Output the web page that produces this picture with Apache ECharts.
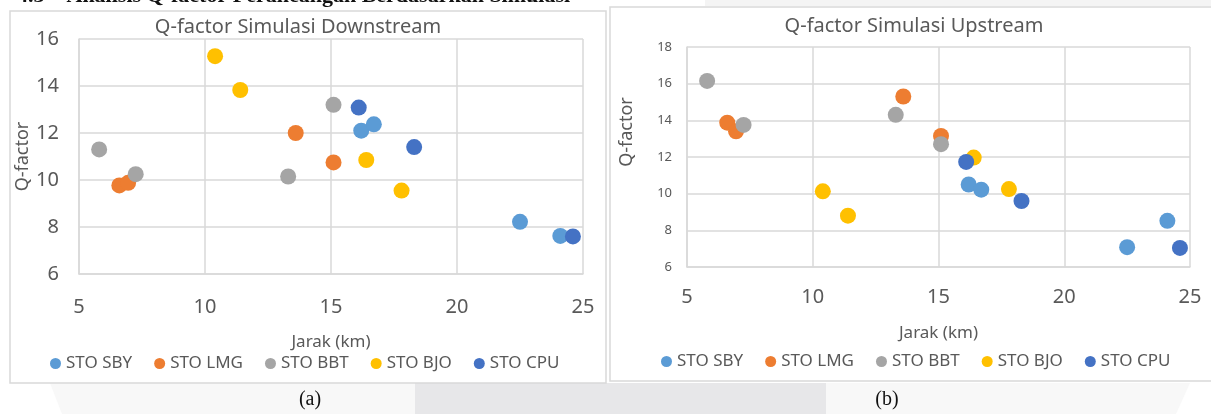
<!DOCTYPE html>
<html>
<head>
<meta charset="utf-8">
<script src="https://cdn.jsdelivr.net/npm/echarts@6/dist/echarts.min.js"></script>
<style>
  html, body { margin: 0; padding: 0; background: #fff; }
  #main { width: 1211px; height: 414px; }
</style>
</head>
<body>
<div id="main"></div>
<script>
// STO names and colours
const stoNames = ['STO SBY', 'STO LMG', 'STO BBT', 'STO BJO', 'STO CPU'];
const stoColors = ['#5B9BD5', '#ED7D31', '#A5A5A5', '#FFC000', '#4472C4'];

// jarak (km) per STO
const jarakSBY = [16.2, 16.7, 22.5, 24.1];
const jarakLMG = [6.6, 6.95, 13.6, 15.1];
const jarakBBT = [5.8, 7.25, 13.3, 15.1];
const jarakBJO = [10.4, 11.4, 16.4, 17.8];
const jarakCPU = [16.1, 18.3, 24.6];

// Q-factor downstream
const downSBY = [12.1, 12.37, 8.22, 7.62];
const downLMG = [9.77, 9.88, 12.0, 10.75];
const downBBT = [11.3, 10.25, 10.15, 13.2];
const downBJO = [15.27, 13.83, 10.85, 9.55];
const downCPU = [13.08, 11.4, 7.6];

// Q-factor upstream
const upSBY = [10.5, 10.22, 7.08, 8.52];
const upLMG = [13.87, 13.4, 15.3, 13.15];
const upBBT = [16.15, 13.75, 14.3, 12.7];
const upBJO = [10.13, 8.8, 11.97, 10.25];
const upCPU = [11.73, 9.6, 7.04];

const jarakAll = [jarakSBY, jarakLMG, jarakBBT, jarakBJO, jarakCPU];
const downAll = [downSBY, downLMG, downBBT, downBJO, downCPU];
const upAll = [upSBY, upLMG, upBBT, upBJO, upCPU];

const font = '"Noto Sans", sans-serif';
const textGrey = '#595959';
const gridGrey = '#D9D9D9';

function pairs(xs, ys) {
    return xs.map((x, i) => [x, ys[i]]);
}

function makeSeries(qAll, axisIndex) {
    return stoNames.map((name, i) => ({
        name: name,
        type: 'scatter',
        xAxisIndex: axisIndex,
        yAxisIndex: axisIndex,
        symbolSize: 16,
        itemStyle: { color: stoColors[i], opacity: 1 },
        data: pairs(jarakAll[i], qAll[i])
    }));
}

function xAxisOpt(gridIndex, labelMargin, nameGap) {
    return {
        type: 'value',
        gridIndex: gridIndex,
        min: 5, max: 25, interval: 5,
        name: 'Jarak (km)',
        nameLocation: 'middle',
        nameGap: nameGap,
        nameTextStyle: { color: textGrey, fontSize: 17, fontFamily: font },
        axisLine: { show: true, lineStyle: { color: gridGrey, width: 1.5 } },
        axisTick: { show: false },
        axisLabel: { color: textGrey, fontSize: 20, fontFamily: font, margin: labelMargin },
        splitLine: { show: true, lineStyle: { color: gridGrey, width: 1.5 } }
    };
}

function yAxisOpt(gridIndex, max, labelSize, labelMargin, nameGap, namePad) {
    return {
        type: 'value',
        gridIndex: gridIndex,
        min: 6, max: max, interval: 2,
        name: 'Q-factor',
        nameLocation: 'middle',
        nameGap: nameGap,
        nameTextStyle: { color: textGrey, fontSize: 18, fontFamily: font, padding: namePad },
        axisLine: { show: true, lineStyle: { color: gridGrey, width: 1.5 } },
        axisTick: { show: false },
        axisLabel: { color: textGrey, fontSize: labelSize, fontFamily: font, margin: labelMargin },
        splitLine: { show: true, lineStyle: { color: gridGrey, width: 1.5 } }
    };
}

function legendOpt(left, top) {
    return {
        data: stoNames,
        icon: 'circle',
        itemWidth: 11,
        itemHeight: 11,
        itemGap: 22,
        top: top,
        left: left,
        selectedMode: false,
        textStyle: { color: textGrey, fontSize: 17, fontFamily: font }
    };
}

const chart = echarts.init(document.getElementById('main'));

chart.setOption({
    backgroundColor: '#fff',
    animation: false,
    title: [
        {
            text: 'Q-factor Simulasi Downstream',
            left: 298, top: 17, textAlign: 'center',
            textStyle: { color: textGrey, fontSize: 20, fontWeight: 'normal', fontFamily: font },
            padding: 0
        },
        {
            text: 'Q-factor Simulasi Upstream',
            left: 914, top: 16, textAlign: 'center',
            textStyle: { color: textGrey, fontSize: 20, fontWeight: 'normal', fontFamily: font },
            padding: 0
        }
    ],
    grid: [
        { left: 79, top: 39, width: 504, height: 235 },
        { left: 687, top: 47, width: 503, height: 220 }
    ],
    xAxis: [xAxisOpt(0, 23, 60), xAxisOpt(1, 20, 58)],
    yAxis: [yAxisOpt(0, 16, 20, 20, 40, 0), yAxisOpt(1, 18, 13, 15, 51, [0, 0, 0, 50])],
    legend: [legendOpt(45, 350), legendOpt(656, 348)],
    graphic: [
        // page backdrop pieces around the two figures
        { type: 'rect', z: -10, shape: { x: 705, y: 0, width: 506, height: 6 }, style: { fill: '#f4f4f4' } },
        { type: 'rect', z: -10, shape: { x: 415, y: 383, width: 411, height: 31 }, style: { fill: '#e7e7e9' } },
        { type: 'polygon', z: -10, shape: { points: [[50, 383], [415, 383], [415, 414], [62, 414]] }, style: { fill: '#f8f8f8' } },
        { type: 'polygon', z: -10, shape: { points: [[826, 383], [1190, 383], [1176, 414], [826, 414]] }, style: { fill: '#f8f8f8' } },
        // cut-off section heading (only its lower edge shows)
        {
            type: 'text', z: -8, x: 17, y: 7,
            style: {
                text: '4.3    Analisis Q-factor Perancangan Berdasarkan Simulasi',
                font: 'bold 22px "Liberation Serif", serif',
                fill: '#111', verticalAlign: 'bottom'
            }
        },
        // chart frames
        { type: 'rect', z: -5, shape: { x: 10, y: 11, width: 596, height: 372 }, style: { fill: '#fff', stroke: gridGrey, lineWidth: 1.5 } },
        { type: 'rect', z: -5, shape: { x: 610, y: 7, width: 602, height: 374 }, style: { fill: '#fff', stroke: gridGrey, lineWidth: 1.5 } },
        // captions
        { type: 'text', x: 310, y: 400, style: { text: '(a)', font: '20px "Liberation Serif", serif', fill: '#111', align: 'center', verticalAlign: 'middle' } },
        { type: 'text', x: 887, y: 400, style: { text: '(b)', font: '20px "Liberation Serif", serif', fill: '#111', align: 'center', verticalAlign: 'middle' } }
    ],
    series: makeSeries(downAll, 0).concat(makeSeries(upAll, 1))
});
</script>
</body>
</html>
